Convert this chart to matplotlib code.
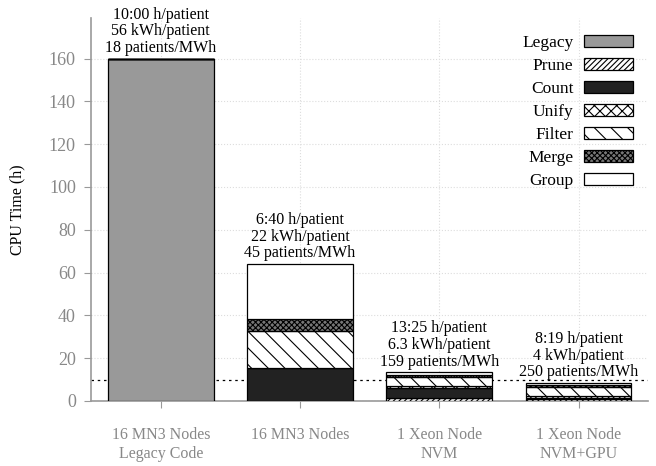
import matplotlib
matplotlib.use('Agg')
import matplotlib.pyplot as plt
import numpy as np

plt.rcParams['font.family'] = ['Liberation Serif', 'DejaVu Serif']
plt.rcParams['hatch.linewidth'] = 0.8

configs = ['16 MN3 Nodes\nLegacy Code', '16 MN3 Nodes', '1 Xeon Node\nNVM', '1 Xeon Node\nNVM+GPU']

# CPU hours per stage, stacked bottom to top
legacy = [160, 0, 0, 0]
prune = [0, 0, 1.4, 0.7]
count = [0, 15.4, 4.9, 0.9]
unify = [0, 0, 0.9, 0.6]
filt = [0, 17.3, 4.0, 4.3]
merge = [0, 5.7, 0.8, 0.8]
group = [0, 25.6, 1.4, 1.0]

labels = [
    '10:00 h/patient\n56 kWh/patient\n18 patients/MWh',
    '6:40 h/patient\n22 kWh/patient\n45 patients/MWh',
    '13:25 h/patient\n6.3 kWh/patient\n159 patients/MWh',
    '8:19 h/patient\n4 kWh/patient\n250 patients/MWh',
]
reference_line = 10

stages = [
    ('Legacy', legacy, dict(color='#999999', hatch=None)),
    ('Prune', prune, dict(color='white', hatch='//////')),
    ('Count', count, dict(color='#222222', hatch=None)),
    ('Unify', unify, dict(color='white', hatch='xxx')),
    ('Filter', filt, dict(color='white', hatch='\\\\')),
    ('Merge', merge, dict(color='#777777', hatch='xxxxxx')),
    ('Group', group, dict(color='white', hatch=None)),
]

fig = plt.figure(figsize=(6.56, 4.66), dpi=100)
ax = fig.add_axes([0.139, 0.1395, 0.849, 0.822])

x = np.arange(len(configs))
bottom = np.zeros(len(configs))
handles = []
for name, vals, style in stages:
    vals = np.array(vals, dtype=float)
    b = ax.bar(x, vals, 0.76, bottom=bottom, color=style['color'], hatch=style['hatch'],
               edgecolor='black', linewidth=0.9, label=name, zorder=3)
    handles.append(b)
    bottom += vals

ax.axhline(reference_line, color='black', linestyle=(0, (2, 3)), linewidth=0.9, zorder=2)

for xi, total, txt in zip(x, bottom, labels):
    ax.annotate(txt, (xi, total), xytext=(0, 2), textcoords='offset points',
                ha='center', va='bottom', fontsize=11.5, linespacing=1.05)

ax.set_xlim(-0.5, 3.5)
ax.set_ylim(0, 179)
ax.set_yticks(range(0, 161, 20))
ax.set_xticks(x)
ax.set_xticklabels(configs, va='top')
ax.set_ylabel('CPU Time (h)', fontsize=11.5, labelpad=17)

ax.grid(True, color='#dddddd', linestyle=':', linewidth=0.8, zorder=0)
ax.set_axisbelow(True)
for s in ['top', 'right']:
    ax.spines[s].set_visible(False)
for s in ['left', 'bottom']:
    ax.spines[s].set_color('#999999')
    ax.spines[s].set_linewidth(1.2)
ax.tick_params(axis='both', colors='#999999', labelcolor='#888888', length=5)
ax.tick_params(axis='y', labelsize=13, pad=6)
ax.tick_params(axis='x', labelsize=11.5, pad=14)

ax.legend(handles=handles, loc='upper right', frameon=False, markerfirst=False,
          fontsize=12.5, handlelength=2.8, handleheight=0.7, labelspacing=0.4,
          handletextpad=0.6, bbox_to_anchor=(1.0, 0.997))

fig.savefig('out.png', dpi=100)
